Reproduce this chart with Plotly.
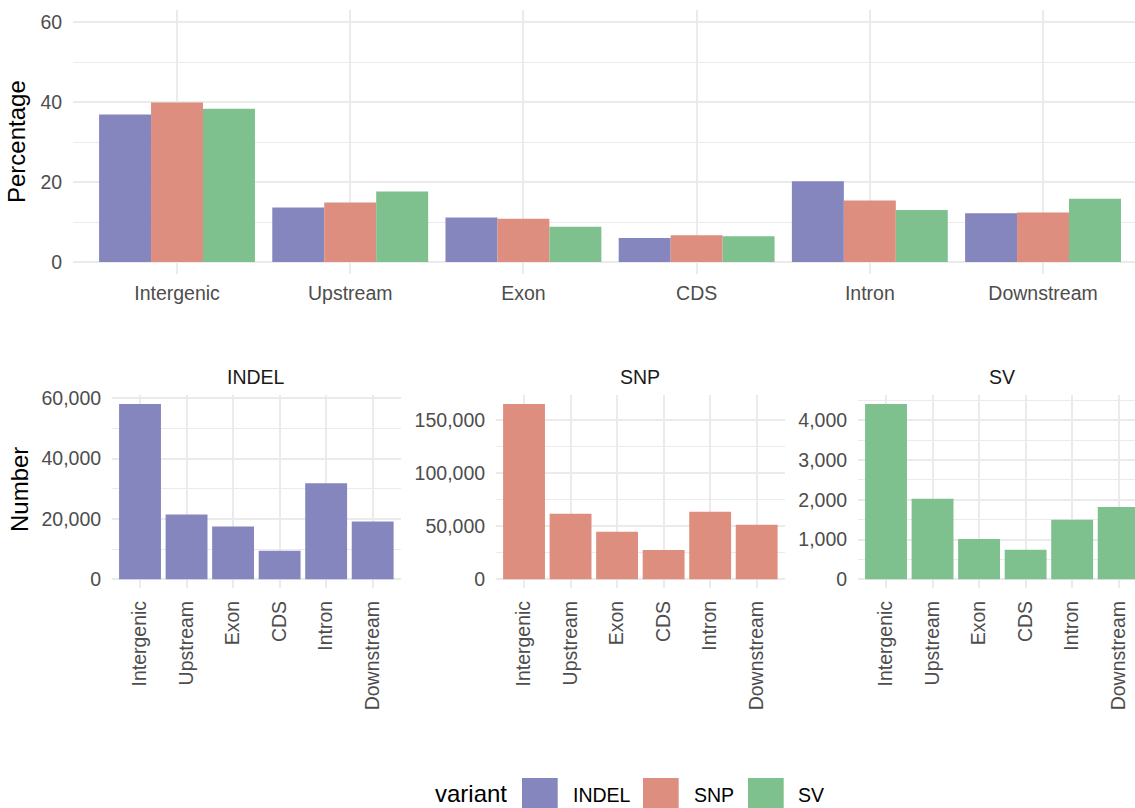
import plotly.graph_objects as go

# Genomic regions and per-variant counts
regions = ["Intergenic", "Upstream", "Exon", "CDS", "Intron", "Downstream"]
variants = ["INDEL", "SNP", "SV"]
indel_counts = [58100, 21500, 17500, 9450, 31800, 19150]
snp_counts = [165300, 61700, 44700, 27700, 63600, 51300]
sv_counts = [4410, 2025, 1015, 740, 1495, 1820]

counts = {"INDEL": indel_counts, "SNP": snp_counts, "SV": sv_counts}
colors = {"INDEL": "#8486BD", "SNP": "#DE8E7E", "SV": "#7EC08E"}

# Share of each region within a variant type
percent = {v: [100 * c / sum(counts[v]) for c in counts[v]] for v in variants}

W, H = 1135, 808
FONT = "Liberation Sans, Arial, Helvetica, sans-serif"
GRID = "#EBEBEB"
TICK_COLOR = "#4D4D4D"


def px_x(p):
    return p / W


def px_y(p):
    return 1 - p / H


fig = go.Figure()

# Top panel: dodged percentages
for i, v in enumerate(variants):
    fig.add_trace(go.Bar(
        x=regions, y=percent[v], name=v,
        width=0.3, offset=-0.45 + 0.3 * i,
        marker=dict(color=colors[v], line=dict(width=0)),
        xaxis="x", yaxis="y", showlegend=False,
    ))

# Bottom panels: raw counts, one facet per variant
for k, v in enumerate(variants, start=2):
    fig.add_trace(go.Bar(
        x=regions, y=counts[v], name=v,
        width=0.9, offset=-0.45,
        marker=dict(color=colors[v], line=dict(width=0)),
        xaxis=f"x{k}", yaxis=f"y{k}", showlegend=False,
    ))

tick_font = dict(family=FONT, size=19.5, color=TICK_COLOR)

layout = dict(
    width=W, height=H,
    margin=dict(l=0, r=0, t=0, b=0, autoexpand=False),
    paper_bgcolor="white", plot_bgcolor="white",
    barmode="overlay",
    showlegend=False,
    font=dict(family=FONT),
)

# Top panel axes
layout["xaxis"] = dict(
    domain=[px_x(73.1), 1], anchor="y", automargin=False,
    type="category", categoryorder="array", categoryarray=regions,
    range=[-0.6, 5.531],
    showgrid=True, gridcolor=GRID, gridwidth=2,
    showline=False, zeroline=False, ticks="",
    tickfont=tick_font, ticklabelstandoff=5,
)
layout["yaxis"] = dict(
    domain=[px_y(274), px_y(10)], anchor="x", automargin=False,
    range=[-3, 63], tickvals=[0, 20, 40, 60],
    showgrid=True, gridcolor=GRID, gridwidth=2,
    minor=dict(tickvals=[10, 30, 50], showgrid=True, gridcolor=GRID, gridwidth=1.1),
    showline=False, zeroline=False, ticks="",
    tickfont=tick_font, ticklabelstandoff=10,
)

# Facet geometry for the count panels
facet_left = {"INDEL": 112.1, "SNP": 496.1, "SV": 858.1}
facet_width = 288.5
facet_minor = {"INDEL": 10000, "SNP": 25000, "SV": 500}
facet_major = {"INDEL": 20000, "SNP": 50000, "SV": 1000}

for k, v in enumerate(variants, start=2):
    left = facet_left[v]
    right = left + facet_width
    if right > W:
        x_end = 5.6 - (right - W) / (facet_width / 6.2)
        right = W
    else:
        x_end = 5.6
    vmax = max(counts[v])
    layout[f"xaxis{k}"] = dict(
        domain=[px_x(left), px_x(right)], anchor=f"y{k}", automargin=False,
        type="category", categoryorder="array", categoryarray=regions,
        range=[-0.6, x_end],
        showgrid=True, gridcolor=GRID, gridwidth=2,
        showline=False, zeroline=False, ticks="",
        tickangle=-90, tickfont=tick_font, ticklabelstandoff=8,
    )
    layout[f"yaxis{k}"] = dict(
        domain=[px_y(588), px_y(395.3)], anchor=f"x{k}", automargin=False,
        range=[-0.05 * vmax, 1.05 * vmax],
        dtick=facet_major[v], tick0=0, tickformat=",",
        showgrid=True, gridcolor=GRID, gridwidth=2,
        minor=dict(dtick=facet_minor[v], tick0=0, showgrid=True, gridcolor=GRID, gridwidth=1.1),
        showline=False, zeroline=False, ticks="",
        tickfont=tick_font, ticklabelstandoff=10,
    )

fig.update_layout(**layout)

annotations = []
# Axis titles
annotations.append(dict(text="Percentage", x=px_x(17), y=px_y(142), xref="paper", yref="paper",
                        showarrow=False, textangle=-90, font=dict(family=FONT, size=24, color="black"),
                        xanchor="center", yanchor="middle"))
annotations.append(dict(text="Number", x=px_x(19), y=px_y(490), xref="paper", yref="paper",
                        showarrow=False, textangle=-90, font=dict(family=FONT, size=24, color="black"),
                        xanchor="center", yanchor="middle"))
# Facet strip labels
for v in variants:
    cx = facet_left[v] + facet_width / 2
    annotations.append(dict(text=v, x=px_x(cx), y=px_y(377), xref="paper", yref="paper",
                            showarrow=False, font=dict(family=FONT, size=19.5, color="#1A1A1A"),
                            xanchor="center", yanchor="middle"))

# Legend drawn at the bottom
shapes = []
annotations.append(dict(text="variant", x=px_x(434), y=px_y(793), xref="paper", yref="paper",
                        showarrow=False, font=dict(family=FONT, size=24, color="black"),
                        xanchor="left", yanchor="middle", borderpad=0))
key_left = {"INDEL": 522, "SNP": 643, "SV": 748}
label_left = {"INDEL": 572, "SNP": 693, "SV": 797}
for v in variants:
    shapes.append(dict(type="rect", xref="paper", yref="paper",
                       x0=px_x(key_left[v]), x1=px_x(key_left[v] + 35.7),
                       y0=px_y(813), y1=px_y(778),
                       fillcolor=colors[v], line=dict(width=0), layer="above"))
    annotations.append(dict(text=v, x=px_x(label_left[v]), y=px_y(795), xref="paper", yref="paper",
                            showarrow=False, font=dict(family=FONT, size=19.5, color="black"),
                            xanchor="left", yanchor="middle", borderpad=0))

fig.update_layout(annotations=annotations, shapes=shapes)

fig.write_html("out.html")
